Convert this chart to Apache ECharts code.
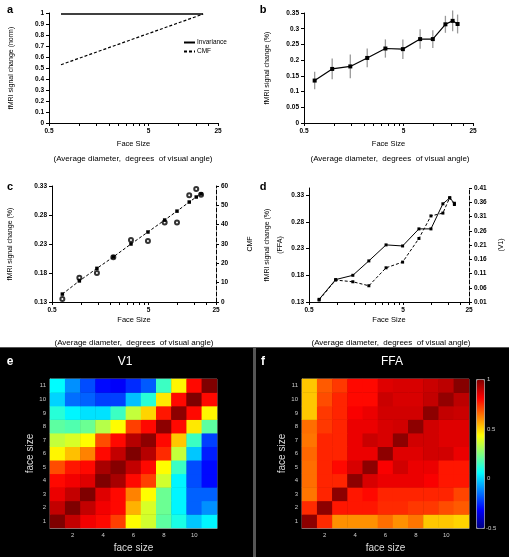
<!DOCTYPE html>
<html><head><meta charset="utf-8">
<script src="https://cdn.jsdelivr.net/npm/echarts@6/dist/echarts.min.js"></script>
<style>html,body{margin:0;padding:0;background:#fff}#c{width:509px;height:557px}</style>
</head><body><div id="c"></div>
<script>
// ---------- data ----------
const faceSizes = [0.64, 0.96, 1.46, 2.16, 3.29, 4.93, 7.35, 9.86, 13.2, 15.6, 17.5];
const aSizes = [0.66, 17.7];
const invariance = [0.99, 0.99];
const cmfNorm = [0.53, 0.99];
const ffaSignal = [0.135, 0.172, 0.180, 0.207, 0.237, 0.235, 0.267, 0.267, 0.314, 0.325, 0.315];
const ffaErr = [0.028, 0.033, 0.038, 0.030, 0.029, 0.031, 0.031, 0.028, 0.027, 0.033, 0.030];
const cmfValues = [4.1, 10.9, 17.4, 23.3, 30.0, 36.2, 42.4, 47.0, 51.7, 54.3, 55.9];
const v1Signal = [0.017, 0.087, 0.081, 0.067, 0.130, 0.150, 0.233, 0.312, 0.322, 0.376, 0.352];
const xLabelValues = [0.5, 5, 25];
const xTickValues = [0.5, 1, 1.5, 2, 2.5, 3, 3.5, 4, 4.5, 5, 10, 15, 20, 25];
const yTicksC = [0.13, 0.18, 0.23, 0.28, 0.33];
const yTicksDRight = [0.01, 0.06, 0.11, 0.16, 0.21, 0.26, 0.31, 0.36, 0.41];
const heatCats = ['1','2','3','4','5','6','7','8','9','10','11'];
const colorbarLabels = ['1', '0.5', '0', '-0.5'];
// rows: face size 1 (bottom) .. 11 (top); columns: face size 1..11
const v1Matrix = [
  [1.0, 0.9, 0.83, 0.8, 0.72, 0.44, 0.37, 0.2, 0.1, -0.02, 0.05],
  [0.9, 1.0, 0.9, 0.83, 0.8, 0.55, 0.38, 0.22, 0.05, -0.17, -0.1],
  [0.84, 0.9, 1.0, 0.86, 0.8, 0.62, 0.44, 0.22, 0.05, -0.17, -0.17],
  [0.8, 0.83, 0.86, 1.0, 0.94, 0.8, 0.72, 0.37, 0.05, -0.2, -0.3],
  [0.7, 0.78, 0.8, 0.94, 0.99, 0.9, 0.8, 0.44, 0.15, -0.2, -0.3],
  [0.45, 0.53, 0.62, 0.8, 0.9, 1.0, 0.92, 0.75, 0.35, -0.02, -0.27],
  [0.35, 0.38, 0.44, 0.7, 0.8, 0.92, 0.98, 0.8, 0.52, 0.15, -0.22],
  [0.2, 0.18, 0.22, 0.33, 0.44, 0.72, 0.8, 0.98, 0.8, 0.47, 0.2],
  [0.12, 0.05, 0.02, 0.02, 0.15, 0.35, 0.5, 0.78, 0.98, 0.8, 0.45],
  [0.0, -0.15, -0.17, -0.22, -0.22, -0.03, 0.12, 0.47, 0.8, 1.0, 0.8],
  [0.06, -0.1, -0.2, -0.3, -0.32, -0.25, -0.18, 0.15, 0.45, 0.8, 1.0]
];
const ffaMatrix = [
  [0.98, 0.75, 0.6, 0.6, 0.6, 0.65, 0.6, 0.64, 0.52, 0.52, 0.5],
  [0.75, 0.98, 0.78, 0.78, 0.78, 0.75, 0.75, 0.73, 0.73, 0.7, 0.68],
  [0.64, 0.76, 0.98, 0.78, 0.8, 0.76, 0.76, 0.76, 0.76, 0.76, 0.71],
  [0.65, 0.76, 0.76, 0.98, 0.87, 0.84, 0.84, 0.84, 0.82, 0.78, 0.78],
  [0.65, 0.76, 0.8, 0.87, 0.98, 0.82, 0.88, 0.84, 0.84, 0.78, 0.78],
  [0.66, 0.76, 0.76, 0.84, 0.84, 0.98, 0.86, 0.86, 0.88, 0.88, 0.84],
  [0.64, 0.76, 0.76, 0.84, 0.89, 0.87, 0.98, 0.88, 0.88, 0.86, 0.86],
  [0.65, 0.73, 0.76, 0.84, 0.84, 0.87, 0.88, 0.98, 0.88, 0.86, 0.86],
  [0.52, 0.73, 0.76, 0.82, 0.84, 0.88, 0.88, 0.88, 0.98, 0.9, 0.89],
  [0.52, 0.7, 0.76, 0.8, 0.8, 0.89, 0.87, 0.87, 0.9, 0.97, 0.91],
  [0.52, 0.68, 0.73, 0.8, 0.8, 0.86, 0.87, 0.87, 0.89, 0.91, 0.99]
];

// ---------- helpers ----------
const FONT = '"Liberation Sans", Arial, sans-serif';
const L = v => Math.log10(v);
const jet = ['#00007f','#0000ff','#007fff','#00ffff','#7fff7f','#ffff00','#ff7f00','#ff0000','#7f0000'];
const black = '#000';

function logX(gi, nameGap) {
  return {
    type: 'value', gridIndex: gi, min: L(0.5), max: L(25),
    axisLine: { show: true, onZero: false, lineStyle: { color: black, width: 1 } },
    axisTick: { show: true, customValues: xTickValues.map(L), length: 3, lineStyle: { color: black } },
    axisLabel: { customValues: xLabelValues.map(L), formatter: v => String(+Math.pow(10, v).toPrecision(3)),
      fontSize: 6.5, fontWeight: 'bold', color: black, fontFamily: FONT, margin: 5 },
    splitLine: { show: false },
    name: 'Face Size', nameLocation: 'middle', nameGap: nameGap,
    nameTextStyle: { fontSize: 7.5, color: black, fontFamily: FONT }
  };
}
function valY(gi, opts, name, nameGap, extra) {
  return Object.assign({
    type: 'value', gridIndex: gi,
    axisLine: { show: true, onZero: false, lineStyle: { color: black, width: 1 } },
    axisTick: { show: true, length: 3, lineStyle: { color: black } },
    axisLabel: { fontSize: 6.5, fontWeight: 'bold', color: black, fontFamily: FONT, margin: 5 },
    splitLine: { show: false },
    name: name, nameLocation: 'middle', nameGap: nameGap,
    nameTextStyle: { fontSize: 7, color: black, fontFamily: FONT, lineHeight: 13 }
  }, opts, extra || {});
}
function heatX(gi) {
  return {
    type: 'category', gridIndex: gi, data: heatCats,
    axisLine: { show: true, onZero: false, lineStyle: { color: '#888' } },
    axisTick: { show: true, alignWithLabel: true, interval: i => i % 2 === 1, length: 2, inside: true, lineStyle: { color: '#aaa' } },
    axisLabel: { interval: i => i % 2 === 1, color: '#ccc', fontSize: 6, fontFamily: FONT, margin: 4 },
    splitLine: { show: false },
    name: 'face size', nameLocation: 'middle', nameGap: 15,
    nameTextStyle: { color: '#ddd', fontSize: 10, fontFamily: FONT }
  };
}
function heatY(gi) {
  return {
    type: 'category', gridIndex: gi, data: heatCats,
    axisLine: { show: true, onZero: false, lineStyle: { color: '#888' } },
    axisTick: { show: true, alignWithLabel: true, length: 2, inside: true, lineStyle: { color: '#aaa' } },
    axisLabel: { interval: 0, color: '#ccc', fontSize: 6, fontFamily: FONT, margin: 4 },
    splitLine: { show: false },
    name: 'face size', nameLocation: 'middle', nameGap: 13,
    nameTextStyle: { color: '#ddd', fontSize: 10, fontFamily: FONT }
  };
}
function heatData(m) {
  const out = [];
  m.forEach((row, r) => row.forEach((v, c) => out.push([c, r, v])));
  return out;
}
const ptsX = (arr, sizes) => sizes.map((s, i) => [L(s), arr[i]]);

function txt(x, y, text, size, opts) {
  return Object.assign({ type: 'text', x: x, y: y, z: 10,
    style: Object.assign({ text: text, fontSize: size, fontFamily: FONT, fill: black, align: 'center', verticalAlign: 'middle' }, (opts && opts.style) || {}) },
    opts && opts.el || {});
}

const caption = '(Average diameter,  degrees  of visual angle)';

const option = {
  animation: false,
  backgroundColor: '#fff',
  grid: [
    { left: 49, top: 13, width: 169, height: 110 },
    { left: 304, top: 13, width: 169, height: 110 },
    { left: 52, top: 186, width: 164, height: 116 },
    { left: 309, top: 188, width: 164, height: 114 },
    { left: 50, top: 379, width: 167, height: 149, show: true, borderColor: '#777', borderWidth: 1, backgroundColor: 'transparent' },
    { left: 302, top: 379, width: 167, height: 149, show: true, borderColor: '#777', borderWidth: 1, backgroundColor: 'transparent' }
  ],
  xAxis: [logX(0, 17), logX(1, 17), logX(2, 14), logX(3, 14), heatX(4), heatX(5)],
  yAxis: [
    valY(0, { min: 0, max: 1, interval: 0.1 }, 'fMRI signal change (norm)', 31),
    valY(1, { min: 0, max: 0.35, interval: 0.05 }, 'fMRI signal change (%)', 30),
    valY(2, { min: 0.13, max: 0.33 }, 'fMRI signal change (%)', 35, {
      axisLabel: { customValues: yTicksC, fontSize: 6.5, fontWeight: 'bold', color: black, fontFamily: FONT, margin: 5 },
      axisTick: { show: true, customValues: yTicksC, length: 3, lineStyle: { color: black } } }),
    valY(2, { min: 0, max: 60, interval: 10, position: 'right' }, 'CMF', 28, {
      axisLine: { show: true, onZero: false, lineStyle: { color: black, width: 1, type: 'dashed' } } }),
    valY(3, { min: 0.13, max: 0.3436 }, 'fMRI signal change (%)\n(FFA)', 22, {
      axisLabel: { customValues: yTicksC, fontSize: 6.5, fontWeight: 'bold', color: black, fontFamily: FONT, margin: 5 },
      axisTick: { show: true, customValues: yTicksC, length: 3, lineStyle: { color: black } } }),
    valY(3, { min: 0.01, max: 0.41, position: 'right' }, '(V1)', 26, {
      axisLine: { show: true, onZero: false, lineStyle: { color: black, width: 1, type: 'dashed' } },
      axisLabel: { customValues: yTicksDRight, fontSize: 6.5, fontWeight: 'bold', color: black, fontFamily: FONT, margin: 5 },
      axisTick: { show: true, customValues: yTicksDRight, length: 3, lineStyle: { color: black } } }),
    heatY(4),
    heatY(5)
  ],
  legend: {
    data: ['Invariance', 'CMF'], orient: 'vertical', left: 183, top: 39,
    itemWidth: 11, itemHeight: 6, itemGap: 2, padding: 0,
    itemStyle: { opacity: 0 },
    textStyle: { fontSize: 6.5, fontFamily: FONT, color: black, padding: [0, 0, 0, -3] }
  },
  visualMap: [
    { type: 'continuous', seriesIndex: 8, min: -0.5, max: 1, show: false, inRange: { color: jet } },
    { type: 'continuous', seriesIndex: 9, min: -0.5, max: 1, show: true, calculable: false,
      left: 476, top: 379, itemWidth: 8, itemHeight: 149, padding: 0,
      borderColor: '#999', borderWidth: 1, inRange: { color: jet }, textStyle: { color: '#ccc' } }
  ],
  series: [
    { name: 'Invariance', type: 'line', xAxisIndex: 0, yAxisIndex: 0, data: ptsX(invariance, aSizes),
      symbol: 'none', lineStyle: { color: black, width: 1.5 }, itemStyle: { color: black } },
    { name: 'CMF', type: 'line', xAxisIndex: 0, yAxisIndex: 0, data: ptsX(cmfNorm, aSizes),
      symbol: 'none', lineStyle: { color: black, width: 1.2, type: [3, 2] }, itemStyle: { color: black } },
    { name: 'errorbars', type: 'custom', xAxisIndex: 1, yAxisIndex: 1,
      data: faceSizes.map((s, i) => [L(s), ffaSignal[i] - ffaErr[i], ffaSignal[i] + ffaErr[i]]),
      encode: { x: 0, y: [1, 2] },
      renderItem: (params, api) => {
        const p1 = api.coord([api.value(0), api.value(1)]);
        const p2 = api.coord([api.value(0), api.value(2)]);
        return { type: 'line', shape: { x1: p1[0], y1: p1[1], x2: p2[0], y2: p2[1] }, style: { stroke: '#999', lineWidth: 1.3 } };
      } },
    { name: 'fMRI b', type: 'line', xAxisIndex: 1, yAxisIndex: 1, data: ptsX(ffaSignal, faceSizes),
      symbol: 'rect', symbolSize: 4, lineStyle: { color: black, width: 1.2 }, itemStyle: { color: black }, z: 5 },
    { name: 'CMF c', type: 'line', xAxisIndex: 2, yAxisIndex: 3, data: ptsX(cmfValues, faceSizes),
      symbol: 'rect', symbolSize: 3.5, lineStyle: { color: black, width: 1, type: [3, 2] }, itemStyle: { color: black } },
    { name: 'fMRI c', type: 'scatter', xAxisIndex: 2, yAxisIndex: 2, data: ptsX(ffaSignal, faceSizes),
      symbol: 'emptyCircle', symbolSize: 4, itemStyle: { color: black, borderColor: black, borderWidth: 1 } },
    { name: 'V1 d', type: 'line', xAxisIndex: 3, yAxisIndex: 5, data: ptsX(v1Signal, faceSizes),
      symbol: 'rect', symbolSize: 3, lineStyle: { color: black, width: 1, type: [3, 2] }, itemStyle: { color: black } },
    { name: 'FFA d', type: 'line', xAxisIndex: 3, yAxisIndex: 4, data: ptsX(ffaSignal, faceSizes),
      symbol: 'rect', symbolSize: 3, lineStyle: { color: black, width: 1 }, itemStyle: { color: black }, z: 5 },
    { name: 'V1', type: 'heatmap', xAxisIndex: 4, yAxisIndex: 6, data: heatData(v1Matrix) },
    { name: 'FFA', type: 'heatmap', xAxisIndex: 5, yAxisIndex: 7, data: heatData(ffaMatrix) }
  ],
  graphic: [
    { type: 'rect', z: -5, shape: { x: 0, y: 347, width: 509, height: 210 }, style: { fill: '#555' } },
    { type: 'rect', z: -4, shape: { x: 0, y: 348, width: 253, height: 209 }, style: { fill: '#000' } },
    { type: 'rect', z: -4, shape: { x: 256, y: 348, width: 253, height: 209 }, style: { fill: '#000' } },
    txt(10, 10, 'a', 11, { style: { fontWeight: 'bold' } }),
    txt(263, 10, 'b', 11, { style: { fontWeight: 'bold' } }),
    txt(10, 187, 'c', 11, { style: { fontWeight: 'bold' } }),
    txt(263, 187, 'd', 11, { style: { fontWeight: 'bold' } }),
    txt(133, 159, caption, 8),
    txt(390, 159, caption, 8),
    txt(134, 343, caption, 8),
    txt(391, 343, caption, 8),
    txt(10, 362, 'e', 12, { style: { fontWeight: 'bold', fill: '#fff' } }),
    txt(263, 362, 'f', 12, { style: { fontWeight: 'bold', fill: '#fff' } }),
    txt(125, 362, 'V1', 12, { style: { fill: '#fff' } }),
    txt(392, 362, 'FFA', 12, { style: { fill: '#fff' } }),
    txt(487, 379, colorbarLabels[0], 6, { style: { fill: '#ccc', align: 'left' } }),
    txt(487, 429, colorbarLabels[1], 6, { style: { fill: '#ccc', align: 'left' } }),
    txt(487, 478, colorbarLabels[2], 6, { style: { fill: '#ccc', align: 'left' } }),
    txt(486, 528, colorbarLabels[3], 6, { style: { fill: '#ccc', align: 'left' } })
  ]
};

const chart = echarts.init(document.getElementById('c'), null, { renderer: 'canvas' });
chart.setOption(option);
</script>
</body></html>
